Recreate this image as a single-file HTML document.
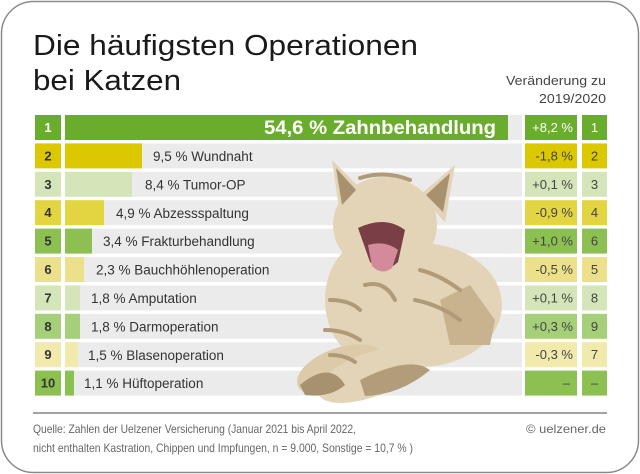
<!DOCTYPE html>
<html><head><meta charset="utf-8"><style>
html,body{margin:0;padding:0;background:#fff;}
svg{display:block;font-family:"Liberation Sans",sans-serif;}
</style></head><body>
<svg width="640" height="474" viewBox="0 0 640 474" xmlns="http://www.w3.org/2000/svg">
<rect x="1.5" y="1.5" width="637" height="471" rx="32" fill="#fff" stroke="#8a8a8a" stroke-width="1.5"/>
<text x="33" y="55" font-size="29" fill="#1a1a1a" textLength="385" lengthAdjust="spacingAndGlyphs">Die häufigsten Operationen</text>
<text x="33" y="90" font-size="29" fill="#1a1a1a" textLength="148" lengthAdjust="spacingAndGlyphs">bei Katzen</text>
<text x="606" y="85" font-size="13" fill="#444" text-anchor="end" textLength="100" lengthAdjust="spacingAndGlyphs">Veränderung zu</text>
<text x="606" y="103" font-size="13" fill="#444" text-anchor="end" textLength="67" lengthAdjust="spacingAndGlyphs">2019/2020</text>

<g fill="#ebebeb">
<rect x="65" y="115" width="457" height="25"/><rect x="65" y="143.4" width="457" height="25"/><rect x="65" y="171.8" width="457" height="25"/><rect x="65" y="200.2" width="457" height="25"/><rect x="65" y="228.6" width="457" height="25"/><rect x="65" y="257" width="457" height="25"/><rect x="65" y="285.4" width="457" height="25"/><rect x="65" y="313.8" width="457" height="25"/><rect x="65" y="342.2" width="457" height="25"/><rect x="65" y="370.6" width="457" height="25"/>
</g>

<!-- rank col, bars, change col, rank2 col -->
<g>
<rect x="35" y="115" width="26" height="25" fill="#6aad2c"/><rect x="65" y="115" width="443" height="25" fill="#6aad2c"/><rect x="525" y="115" width="52" height="25" fill="#6aad2c"/><rect x="582" y="115" width="25" height="25" fill="#6aad2c"/>
<rect x="35" y="143.4" width="26" height="25" fill="#dcc800"/><rect x="65" y="143.4" width="77" height="25" fill="#dcc800"/><rect x="525" y="143.4" width="52" height="25" fill="#dcc800"/><rect x="582" y="143.4" width="25" height="25" fill="#dcc800"/>
<rect x="35" y="171.8" width="26" height="25" fill="#d4e5b9"/><rect x="65" y="171.8" width="67" height="25" fill="#d4e5b9"/><rect x="525" y="171.8" width="52" height="25" fill="#d4e5b9"/><rect x="582" y="171.8" width="25" height="25" fill="#d4e5b9"/>
<rect x="35" y="200.2" width="26" height="25" fill="#e3d442"/><rect x="65" y="200.2" width="39" height="25" fill="#e3d442"/><rect x="525" y="200.2" width="52" height="25" fill="#e3d442"/><rect x="582" y="200.2" width="25" height="25" fill="#e3d442"/>
<rect x="35" y="228.6" width="26" height="25" fill="#8cc152"/><rect x="65" y="228.6" width="27" height="25" fill="#8cc152"/><rect x="525" y="228.6" width="52" height="25" fill="#8cc152"/><rect x="582" y="228.6" width="25" height="25" fill="#8cc152"/>
<rect x="35" y="257" width="26" height="25" fill="#ede08a"/><rect x="65" y="257" width="19" height="25" fill="#ede08a"/><rect x="525" y="257" width="52" height="25" fill="#ede08a"/><rect x="582" y="257" width="25" height="25" fill="#ede08a"/>
<rect x="35" y="285.4" width="26" height="25" fill="#d4e5b9"/><rect x="65" y="285.4" width="15" height="25" fill="#d4e5b9"/><rect x="525" y="285.4" width="52" height="25" fill="#d4e5b9"/><rect x="582" y="285.4" width="25" height="25" fill="#d4e5b9"/>
<rect x="35" y="313.8" width="26" height="25" fill="#a6cf7a"/><rect x="65" y="313.8" width="15" height="25" fill="#a6cf7a"/><rect x="525" y="313.8" width="52" height="25" fill="#a6cf7a"/><rect x="582" y="313.8" width="25" height="25" fill="#a6cf7a"/>
<rect x="35" y="342.2" width="26" height="25" fill="#f2e9ad"/><rect x="65" y="342.2" width="13" height="25" fill="#f2e9ad"/><rect x="525" y="342.2" width="52" height="25" fill="#f2e9ad"/><rect x="582" y="342.2" width="25" height="25" fill="#f2e9ad"/>
<rect x="35" y="370.6" width="26" height="25" fill="#8cc152"/><rect x="65" y="370.6" width="9" height="25" fill="#8cc152"/><rect x="525" y="370.6" width="52" height="25" fill="#8cc152"/><rect x="582" y="370.6" width="25" height="25" fill="#8cc152"/>
</g>

<!-- cat -->
<g>
<ellipse cx="420" cy="305" rx="82" ry="62" fill="#e3d4b8"/>
<ellipse cx="385" cy="225" rx="52" ry="48" fill="#e3d4b8"/>
<polygon points="332,160 362,190 340,215" fill="#e3d4b8"/>
<polygon points="455,165 420,195 445,222" fill="#e3d4b8"/>
<polygon points="336,168 356,190 342,205" fill="#a8916f"/>
<polygon points="450,173 426,195 443,212" fill="#a8916f"/>
<ellipse cx="370" cy="300" rx="45" ry="60" fill="#e3d4b8"/>
<ellipse cx="340" cy="370" rx="45" ry="22" fill="#dccaa9" transform="rotate(-20 340 370)"/>
<ellipse cx="370" cy="375" rx="55" ry="22" fill="#e3d4b8" transform="rotate(-20 370 375)"/>
<path d="M300 385 Q330 360 345 385 Q330 398 305 395 Z" fill="#a8916f"/>
<path d="M360 380 Q410 355 430 370 Q400 395 365 396 Z" fill="#b39c79"/>
<path d="M440 300 L470 285 L495 320 L490 345 L450 345 Z" fill="#c9b38e"/>
<g stroke="#b09a78" stroke-width="4" fill="none" stroke-linecap="round">
<path d="M360 178 Q385 170 410 180"/><path d="M365 285 Q385 280 395 300"/><path d="M330 300 Q350 300 360 310"/><path d="M325 330 Q345 330 360 340"/><path d="M420 270 Q440 275 460 290"/><path d="M415 300 Q440 305 460 320"/><path d="M330 355 Q345 355 355 362"/>
</g>
<path d="M358 228 Q385 215 405 230 L398 262 Q385 275 370 262 Z" fill="#7a3f46"/>
<path d="M368 245 Q385 240 398 250 L392 268 Q382 276 372 266 Z" fill="#d38b9b"/>
</g>

<!-- rank text -->
<g font-size="13" font-weight="bold" fill="#333" text-anchor="middle">
<text x="48" y="132" fill="#fff">1</text><text x="48" y="160.4">2</text><text x="48" y="188.8">3</text><text x="48" y="217.2">4</text><text x="48" y="245.6">5</text><text x="48" y="274">6</text><text x="48" y="302.4">7</text><text x="48" y="330.8">8</text><text x="48" y="359.2">9</text><text x="48" y="387.6">10</text>
</g>
<text x="264" y="134" font-size="19" font-weight="bold" fill="#fff" textLength="232" lengthAdjust="spacingAndGlyphs">54,6 % Zahnbehandlung</text>
<g font-size="13.5" fill="#333">
<text x="153" y="161">9,5 % Wundnaht</text>
<text x="145" y="189.4">8,4 % Tumor-OP</text>
<text x="116" y="217.8">4,9 % Abzessspaltung</text>
<text x="103" y="246.2">3,4 % Frakturbehandlung</text>
<text x="96" y="274.6">2,3 % Bauchhöhlenoperation</text>
<text x="91" y="303">1,8 % Amputation</text>
<text x="91" y="331.4">1,8 % Darmoperation</text>
<text x="88" y="359.8">1,5 % Blasenoperation</text>
<text x="84" y="388.2">1,1 % Hüftoperation</text>
</g>
<g font-size="13" fill="#444" text-anchor="end">
<text x="573" y="132" fill="#fff">+8,2 %</text><text x="573" y="160.4">-1,8 %</text><text x="573" y="188.8">+0,1 %</text><text x="573" y="217.2">-0,9 %</text><text x="573" y="245.6">+1,0 %</text><text x="573" y="274">-0,5 %</text><text x="573" y="302.4">+0,1 %</text><text x="573" y="330.8">+0,3 %</text><text x="573" y="359.2">-0,3 %</text><text x="570" y="387.6">–</text>
</g>
<g font-size="13" fill="#444" text-anchor="middle">
<text x="594.5" y="132" fill="#fff">1</text><text x="594.5" y="160.4">2</text><text x="594.5" y="188.8">3</text><text x="594.5" y="217.2">4</text><text x="594.5" y="245.6">6</text><text x="594.5" y="274">5</text><text x="594.5" y="302.4">8</text><text x="594.5" y="330.8">9</text><text x="594.5" y="359.2">7</text><text x="594.5" y="387.6">–</text>
</g>

<line x1="33" y1="413" x2="607" y2="413" stroke="#444" stroke-width="1"/>
<text x="33" y="433" font-size="12" fill="#666" textLength="323" lengthAdjust="spacingAndGlyphs">Quelle: Zahlen der Uelzener Versicherung (Januar 2021 bis April 2022,</text>
<text x="33" y="452" font-size="12" fill="#666" textLength="380" lengthAdjust="spacingAndGlyphs">nicht enthalten Kastration, Chippen und Impfungen, n = 9.000, Sonstige = 10,7 % )</text>
<text x="606" y="433" font-size="12" fill="#666" text-anchor="end" textLength="80" lengthAdjust="spacingAndGlyphs">© uelzener.de</text>
</svg>
</body></html>
